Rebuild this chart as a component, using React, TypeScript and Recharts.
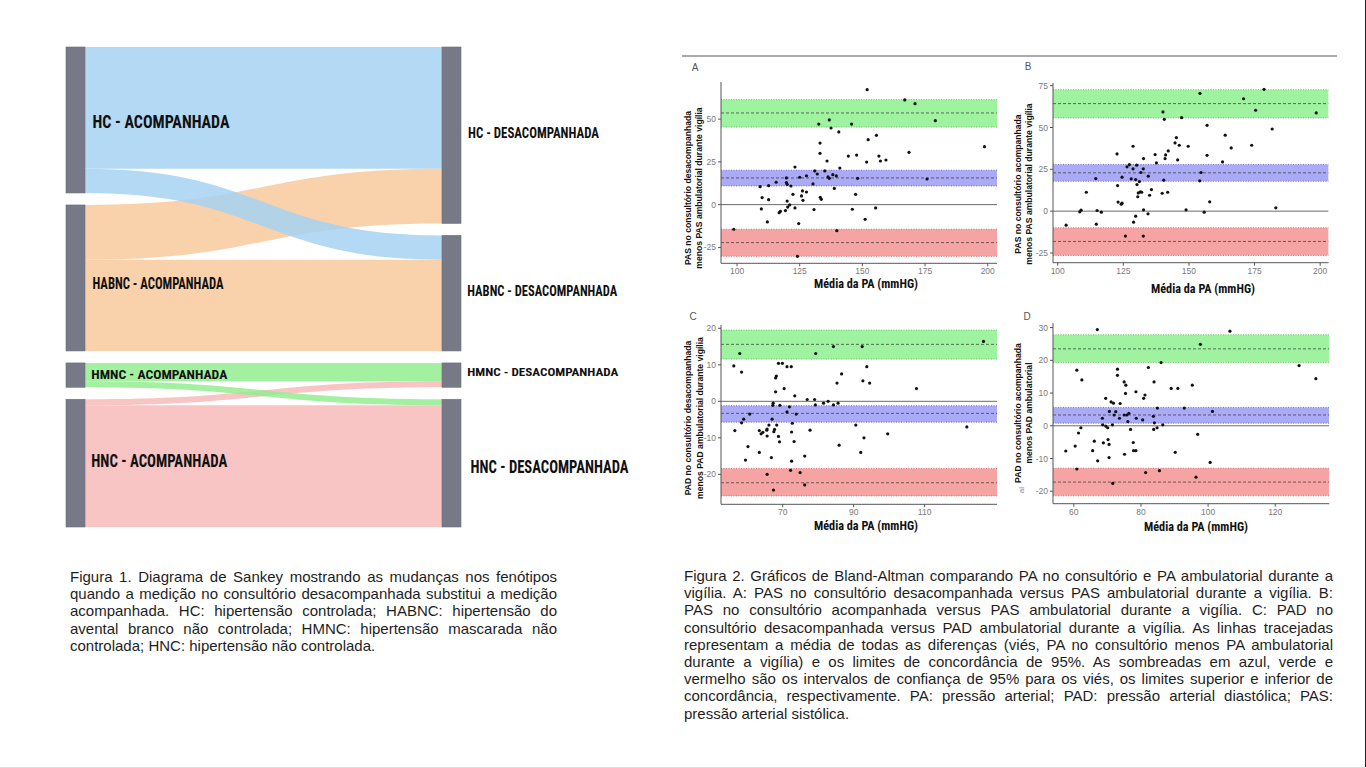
import React from 'react';
import { Sankey, ScatterChart, Scatter, XAxis, YAxis, ReferenceArea, ReferenceLine } from 'recharts';

// ---------------- Sankey data ----------------
const SANKEY_NODES = [
  'HC - ACOMPANHADA',
  'HABNC - ACOMPANHADA',
  'HMNC - ACOMPANHADA',
  'HNC - ACOMPANHADA',
  'HC - DESACOMPANHADA',
  'HABNC - DESACOMPANHADA',
  'HMNC - DESACOMPANHADA',
  'HNC - DESACOMPANHADA',
];
// [source, target, patients]
const SANKEY_LINKS: [number, number, number][] = [
  [0, 4, 20],
  [1, 4, 9],
  [1, 5, 15],
  [0, 5, 4],
  [3, 6, 1],
  [2, 6, 3],
  [2, 7, 1],
  [3, 7, 20],
];

// ---------------- Bland-Altman data ----------------
const A_POINTS: [number, number][] = [
  [98.7, -14.4], [109.2, 10.5], [110.0, 4.1], [109.7, -2.5], [112.6, 11.1], [112.6, 2.9], [112.1, -10.1],
  [115.6, 13.1], [116.8, -4.7], [117.3, -3.9], [119.3, -3.5], [119.7, 15.6], [119.7, 12.9], [120.0, 11.9],
  [120.0, 2.1], [120.2, -1.4], [121.0, -0.2], [121.5, 10.9], [122.3, 6.0], [123.1, 22.0], [123.1, -1.9],
  [124.6, -11.1], [125.0, 16.0], [125.7, 5.1], [126.1, 8.0], [126.3, 2.5], [127.7, 16.9], [127.7, 7.4],
  [124.1, -30.2], [130.3, 12.1], [130.7, -2.9], [131.0, 19.7], [132.0, 17.9], [132.6, 47.1], [133.1, 36.0],
  [133.1, 30.0], [133.2, 4.3], [133.6, 3.1], [135.0, 19.7], [135.9, 25.5], [136.3, 16.2], [136.8, 15.4],
  [136.8, 49.5], [137.5, 44.8], [138.2, 17.5], [138.8, 9.5], [139.6, 16.8], [139.8, -15.2], [140.6, 42.5],
  [141.0, 21.4], [144.4, 28.4], [145.7, 47.1], [146.0, -2.7], [147.3, 6.0], [147.7, 29.0], [148.1, 15.4],
  [151.1, -8.6], [151.9, 67.2], [151.7, 24.9], [152.3, 38.0], [155.3, -1.9], [155.6, 40.5], [156.6, 28.4],
  [157.2, 25.5], [159.4, 26.1], [166.9, 61.2], [168.6, 30.6], [171.0, 59.0], [175.8, 15.0], [179.1, 49.1],
  [198.7, 33.9],
];
const B_POINTS: [number, number][] = [
  [103.2, -8.4], [108.4, -0.4], [108.9, 0.6], [110.9, 11.3], [114.5, 19.5], [114.7, -7.8], [115.0, 0.4],
  [116.6, -0.6], [122.6, 34.2], [122.8, 15.3], [123.0, 5.4], [124.2, 4.2], [124.5, 4.8], [124.5, 20.3],
  [125.8, -14.9], [126.4, 26.5], [127.3, 27.8], [128.0, 19.3], [128.7, 38.8], [128.7, 25.3], [128.9, -6.6],
  [129.7, 18.9], [129.7, -3.0], [130.1, 27.5], [130.2, 15.9], [130.5, 8.6], [130.7, 10.9], [131.1, 17.7],
  [131.5, 11.5], [132.0, 11.3], [131.7, 23.1], [132.6, 25.3], [132.7, 31.4], [132.7, 0.8], [132.6, -14.9],
  [134.4, -1.6], [134.5, 20.9], [135.0, 9.5], [135.7, 12.9], [137.1, 33.8], [137.6, 28.8], [139.8, 10.7],
  [140.1, 59.3], [140.4, 18.5], [140.6, 54.9], [140.9, 31.4], [141.1, 33.6], [141.9, 11.3], [142.1, 36.0],
  [144.7, 40.8], [145.2, 44.0], [145.7, 30.6], [146.3, 39.4], [147.2, 55.9], [148.9, 0.8], [149.7, 38.8],
  [154.2, 70.4], [154.1, 18.1], [154.6, 23.1], [155.8, -0.6], [156.9, 51.3], [156.9, 33.4], [157.9, 5.6],
  [162.8, 29.4], [163.8, 45.4], [166.1, 37.8], [170.8, 67.2], [173.9, 39.4], [175.4, 60.3], [178.6, 72.8],
  [181.7, 49.1], [183.1, 2.0], [198.5, 58.7],
];
const C_POINTS: [number, number][] = [
  [56.2, 9.7], [56.5, -8.0], [57.9, 13.1], [58.4, 8.0], [58.4, -5.9], [59.0, -4.9], [59.5, -16.1],
  [60.2, -12.4], [60.7, -3.5], [63.4, -14.0], [63.4, -8.0], [63.9, -8.9], [64.4, -8.5], [65.5, -7.9],
  [65.6, -7.6], [65.6, -9.5], [65.6, -20.0], [66.1, -6.5], [66.8, -15.4], [67.0, -4.9], [67.2, -1.1],
  [67.3, -0.5], [67.5, -8.3], [67.7, -7.7], [67.4, -24.3], [68.0, 2.6], [68.0, 6.4], [68.2, 6.9],
  [68.3, -6.5], [68.8, 10.4], [68.8, -9.6], [69.1, -11.1], [69.2, -1.1], [69.9, 10.4], [70.4, 3.5],
  [71.2, 9.5], [71.2, -2.9], [71.9, -1.5], [72.2, -18.9], [72.4, 9.5], [72.5, -8.4], [72.5, -16.4],
  [72.7, -6.0], [73.2, -11.0], [73.4, 1.5], [73.8, -3.5], [74.9, -19.5], [76.2, -15.0], [76.2, -22.9],
  [76.9, 0.5], [77.7, -7.9], [79.0, 0.5], [79.2, -1.0], [79.3, 13.1], [81.5, -0.5], [82.8, 0.0],
  [84.3, 15.0], [84.3, -1.0], [85.3, 5.0], [85.6, -0.5], [85.9, -12.0], [86.6, 7.5], [90.6, -6.5],
  [92.0, -14.0], [92.4, 15.0], [92.6, 5.6], [92.9, -10.0], [93.7, 9.5], [94.5, 5.0], [99.6, -8.9],
  [107.7, 3.5], [121.9, -7.0], [126.6, 16.4],
];
const D_POINTS: [number, number][] = [
  [57.6, -7.7], [60.4, -6.2], [60.9, 17.0], [60.9, -13.2], [61.4, -2.2], [62.1, -0.6], [62.4, 14.0],
  [65.6, -7.6], [66.1, -4.7], [67.0, 29.4], [67.1, -10.7], [68.5, 2.3], [68.6, 0.3], [68.8, -5.2],
  [69.5, 8.4], [69.5, -0.1], [70.1, -0.6], [70.2, -4.2], [70.5, -5.7], [70.5, -9.7], [70.6, 4.4],
  [71.1, 7.3], [71.5, 0.3], [71.6, -17.6], [71.8, 6.9], [72.0, 3.3], [72.5, 4.3], [73.0, 17.3],
  [73.0, 15.4], [73.6, 2.3], [73.8, 6.8], [75.0, 13.4], [75.0, 3.3], [75.1, -8.7], [75.5, 12.4],
  [75.4, 9.9], [75.8, 3.3], [76.1, 1.3], [76.4, 3.8], [76.9, -1.1], [77.7, -5.1], [77.8, -7.6],
  [78.5, -7.6], [78.5, 10.4], [78.6, 2.3], [80.5, 1.8], [80.8, 8.4], [81.2, 9.4], [81.4, -14.3],
  [82.2, 17.8], [83.7, 2.9], [83.8, -1.1], [83.9, 13.4], [84.0, 0.9], [84.8, -0.6], [84.9, 5.4],
  [85.5, -13.7], [86.0, 19.3], [86.5, 0.3], [89.0, 11.4], [90.2, -8.1], [91.0, 11.4], [92.9, 5.4],
  [95.3, 12.4], [96.4, -15.7], [96.9, -2.6], [97.7, 24.9], [100.6, -11.2], [101.3, 4.4], [106.5, 28.9],
  [127.1, 18.4], [132.1, 14.4],
];

// limits: [low CI, estimate, high CI]
const A_UPPER = [45.4, 53.6, 61.4];
const A_BIAS = [10.9, 15.6, 20.1];
const A_LOWER = [-30.2, -22.2, -14.4];
const B_UPPER = [55.7, 64.3, 72.6];
const B_BIAS = [17.9, 22.9, 27.9];
const B_LOWER = [-26.5, -18.1, -9.9];
const C_UPPER = [11.6, 15.6, 19.5];
const C_BIAS = [-5.7, -3.3, -1.2];
const C_LOWER = [-25.9, -22.3, -18.4];
const D_UPPER = [19.3, 23.5, 27.8];
const D_BIAS = [0.8, 3.3, 5.6];
const D_LOWER = [-21.4, -17.2, -13.0];

const A_X_TICKS = [100, 125, 150, 175, 200];
const A_Y_TICKS = [-25, 0, 25, 50];
const B_X_TICKS = [100, 125, 150, 175, 200];
const B_Y_TICKS = [-25, 0, 25, 50, 75];
const C_X_TICKS = [70, 90, 110];
const C_Y_TICKS = [-20, -10, 0, 10, 20];
const D_X_TICKS = [60, 80, 100, 120];
const D_Y_TICKS = [-20, -10, 0, 10, 20, 30];

const X_TITLE = 'Média da PA (mmHG)';
const A_Y_TITLE = ['PAS no consultório desacompanhada', 'menos PAS ambulatorial durante vigília'];
const B_Y_TITLE = ['PAS no consultório acompanhada', 'menos PAS ambulatorial durante vigília'];
const C_Y_TITLE = ['PAD no consultório desacompanhada', 'menos PAD ambulatorial durante vigília'];
const D_Y_TITLE = ['PAD no consultório acompanhada', 'menos PAD ambulatorial'];

const FIG1_LINES = [
  'Figura 1. Diagrama de Sankey mostrando as mudanças nos fenótipos',
  'quando a medição no consultório desacompanhada substitui a medição',
  'acompanhada. HC: hipertensão controlada; HABNC: hipertensão do',
  'avental branco não controlada; HMNC: hipertensão mascarada não',
  'controlada; HNC: hipertensão não controlada.',
];
const FIG2_LINES = [
  'Figura 2. Gráficos de Bland-Altman comparando  PA no consultório e PA ambulatorial durante a',
  'vigília. A: PAS no consultório desacompanhada versus PAS ambulatorial durante a vigília. B:',
  'PAS no consultório acompanhada versus PAS ambulatorial durante a vigília. C: PAD no',
  'consultório desacompanhada versus PAD ambulatorial durante a vigília. As linhas tracejadas',
  'representam a média de todas as diferenças (viés, PA no consultório menos PA ambulatorial',
  'durante a vigília) e os limites de concordância de 95%. As sombreadas em azul, verde e',
  'vermelho são os intervalos de confiança de 95% para os viés, os limites superior e inferior de',
  'concordância, respectivamente. PA: pressão arterial; PAD: pressão arterial diastólica; PAS:',
  'pressão arterial sistólica.',
];

// ---------------- styles / layout ----------------
const NARROW = "'Liberation Sans Narrow', 'Roboto Condensed', 'DejaVu Sans Condensed', 'Liberation Sans', Arial, sans-serif";
const ARIAL = "'Liberation Sans', Arial, Helvetica, sans-serif";

const LINK_COLOR: Record<string, string> = {
  'HC - ACOMPANHADA': 'rgb(166,210,243)',
  'HABNC - ACOMPANHADA': 'rgb(248,201,155)',
  'HMNC - ACOMPANHADA': 'rgb(147,237,143)',
  'HNC - ACOMPANHADA': 'rgb(247,186,186)',
};
const NODE_LABEL: Record<string, { dx: number; dy: number; size: number; len: number }> = {
  'HC - ACOMPANHADA': { dx: 7.5, dy: 1.7, size: 18, len: 137 },
  'HABNC - ACOMPANHADA': { dx: 7.5, dy: 6, size: 16, len: 131 },
  'HMNC - ACOMPANHADA': { dx: 6.3, dy: -1, size: 12.5, len: 136 },
  'HNC - ACOMPANHADA': { dx: 6.3, dy: -3, size: 19, len: 136 },
  'HC - DESACOMPANHADA': { dx: 7, dy: -2.5, size: 15, len: 131 },
  'HABNC - DESACOMPANHADA': { dx: 6.3, dy: -2, size: 14, len: 150 },
  'HMNC - DESACOMPANHADA': { dx: 6.3, dy: -3, size: 11.5, len: 151 },
  'HNC - DESACOMPANHADA': { dx: 9.6, dy: 3, size: 18, len: 158 },
};

const SANKEY_W = 680;
const SANKEY_H = 540;

const sankeyData = {
  nodes: SANKEY_NODES.map((name) => ({ name })),
  links: SANKEY_LINKS.map(([source, target, value]) => ({ source, target, value })),
};

const nodeName = (n: any) => (typeof n === 'number' ? SANKEY_NODES[n] : n?.name);

const SankeyNode = (props: any) => {
  const { x, y, width, height, payload } = props;
  const name = payload?.name;
  const lab = NODE_LABEL[name] || { dx: 6, dy: 0, size: 14, len: 130 };
  return (
    <g>
      <rect x={x} y={y} width={width} height={height} fill="#777987" stroke="#6c6e7c" strokeWidth={0.6} />
      <text
        x={x + width + lab.dx}
        y={y + height / 2 + lab.dy}
        fontFamily={NARROW}
        fontWeight={700}
        fontSize={lab.size}
        fill="#111"
        dominantBaseline="central"
        textLength={lab.len}
        lengthAdjust="spacingAndGlyphs"
      >
        {name}
      </text>
    </g>
  );
};

const SankeyLink = (props: any) => {
  const { sourceX, targetX, sourceY, targetY, sourceControlX, targetControlX, linkWidth, payload } = props;
  const h = linkWidth / 2;
  const d = `M${sourceX},${sourceY - h} C${sourceControlX},${sourceY - h} ${targetControlX},${targetY - h} ${targetX},${targetY - h} L${targetX},${targetY + h} C${targetControlX},${targetY + h} ${sourceControlX},${sourceY + h} ${sourceX},${sourceY + h} Z`;
  const color = LINK_COLOR[nodeName(payload?.source)] || '#ccc';
  return <path d={d} fill={color} fillOpacity={0.85} stroke="none" />;
};

type PanelCfg = {
  points: [number, number][];
  upper: number[];
  bias: number[];
  lower: number[];
  xTicks: number[];
  yTicks: number[];
  xDomain: [number, number];
  yDomain: [number, number];
  plot: { x: number; y: number; w: number; h: number };
};

const PANELS: PanelCfg[] = [
  { points: A_POINTS, upper: A_UPPER, bias: A_BIAS, lower: A_LOWER, xTicks: A_X_TICKS, yTicks: A_Y_TICKS,
    xDomain: [93.6, 203.7], yDomain: [-34.3, 71.7], plot: { x: 720.7, y: 81.7, w: 276, h: 181.3 } },
  { points: B_POINTS, upper: B_UPPER, bias: B_BIAS, lower: B_LOWER, xTicks: B_X_TICKS, yTicks: B_Y_TICKS,
    xDomain: [98.2, 203.2], yDomain: [-30.8, 76.6], plot: { x: 1052.7, y: 83.3, w: 275.6, h: 179.7 } },
  { points: C_POINTS, upper: C_UPPER, bias: C_BIAS, lower: C_LOWER, xTicks: C_X_TICKS, yTicks: C_Y_TICKS,
    xDomain: [52.6, 130.4], yDomain: [-28.2, 20.9], plot: { x: 720.7, y: 325, w: 276, h: 179.3 } },
  { points: D_POINTS, upper: D_UPPER, bias: D_BIAS, lower: D_LOWER, xTicks: D_X_TICKS, yTicks: D_Y_TICKS,
    xDomain: [53.8, 136.1], yDomain: [-23.8, 31.4], plot: { x: 1052.7, y: 323.3, w: 276.3, h: 180.7 } },
];

const BANDS = [
  { key: 'upper', fill: '#9ff29f', edge: '#5fc25f' },
  { key: 'bias', fill: '#aaaaf7', edge: '#6a6ad0' },
  { key: 'lower', fill: '#f5a3a3', edge: '#cf6a6a' },
] as const;

const TICK_STYLE = { fontSize: 8.5, fill: '#7a7a7a', fontFamily: ARIAL };

const Dot = (p: any) => <circle cx={p.cx} cy={p.cy} r={1.6} fill="#111" />;

function Panel({ cfg }: { cfg: PanelCfg }) {
  const MT = 10, MR = 10, YW = 40, XH = 22;
  const W = cfg.plot.w + YW + MR;
  const H = cfg.plot.h + MT + XH;
  const data = cfg.points.map(([x, y]) => ({ x, y }));
  return (
    <div style={{ position: 'absolute', left: cfg.plot.x - YW, top: cfg.plot.y - MT }}>
      <ScatterChart width={W} height={H} margin={{ top: MT, right: MR, bottom: 0, left: 0 }}>
        <XAxis
          type="number"
          dataKey="x"
          domain={cfg.xDomain}
          ticks={cfg.xTicks}
          allowDataOverflow
          interval={0}
          height={XH}
          tickSize={3}
          tick={TICK_STYLE}
          axisLine={{ stroke: '#555', strokeWidth: 1 }}
          tickLine={{ stroke: '#555' }}
        />
        <YAxis
          type="number"
          dataKey="y"
          domain={cfg.yDomain}
          ticks={cfg.yTicks}
          allowDataOverflow
          interval={0}
          width={YW}
          tickSize={3}
          tick={TICK_STYLE}
          axisLine={{ stroke: '#555', strokeWidth: 1 }}
          tickLine={{ stroke: '#555' }}
        />
        {BANDS.map((b) => {
          const v = cfg[b.key];
          return (
            <ReferenceArea key={b.key} y1={v[0]} y2={v[2]} fill={b.fill} fillOpacity={1} stroke="none" ifOverflow="hidden" />
          );
        })}
        {BANDS.map((b) => {
          const v = cfg[b.key];
          return [
            <ReferenceLine key={b.key + 'lo'} y={v[0]} stroke={b.edge} strokeWidth={0.9} strokeDasharray="1 1.5" ifOverflow="hidden" />,
            <ReferenceLine key={b.key + 'hi'} y={v[2]} stroke={b.edge} strokeWidth={0.9} strokeDasharray="1 1.5" ifOverflow="hidden" />,
            <ReferenceLine key={b.key + 'mid'} y={v[1]} stroke="#333" strokeWidth={0.7} strokeDasharray="3 2" ifOverflow="hidden" />,
          ];
        })}
        <ReferenceLine y={0} stroke="#6a6a6a" strokeWidth={1} ifOverflow="hidden" />
        <Scatter data={data} shape={Dot} isAnimationActive={false} />
      </ScatterChart>
    </div>
  );
}

const TITLES = [
  { letter: 'A', lx: 695, ly: 67, xt: { x: 866, y: 284 }, yt: A_Y_TITLE, yx: [688.3, 699], ycy: 188 },
  { letter: 'B', lx: 1028, ly: 66, xt: { x: 1203, y: 289 }, yt: B_Y_TITLE, yx: [1018.3, 1029], ycy: 184 },
  { letter: 'C', lx: 693, ly: 316, xt: { x: 866, y: 526 }, yt: C_Y_TITLE, yx: [688.3, 700], ycy: 418 },
  { letter: 'D', lx: 1027, ly: 316, xt: { x: 1196, y: 527 }, yt: D_Y_TITLE, yx: [1018.3, 1029], ycy: 413 },
];

function Caption({ lines, left, top, width }: { lines: string[]; left: number; top: number; width: number }) {
  return (
    <div style={{ position: 'absolute', left, top, width, fontFamily: ARIAL, fontSize: 15, lineHeight: '17.2px', color: '#1e1e1e' }}>
      {lines.map((l, i) => (
        <div
          key={i}
          style={{
            whiteSpace: 'nowrap',
            textAlign: i === lines.length - 1 ? 'left' : 'justify',
            textAlignLast: i === lines.length - 1 ? 'left' : 'justify',
          }}
        >
          {l}
        </div>
      ))}
    </div>
  );
}

export default function App() {
  return (
    <div style={{ position: 'absolute', left: 0, top: 0, width: 1366, height: 768, background: '#fff', overflow: 'hidden' }}>
      <div style={{ position: 'absolute', left: 0, top: 0 }}>
        <Sankey
          width={SANKEY_W}
          height={SANKEY_H}
          data={sankeyData}
          nodeWidth={19}
          nodePadding={12}
          iterations={0}
          margin={{ top: 47, bottom: SANKEY_H - 527, left: 66, right: SANKEY_W - 461 }}
          node={SankeyNode}
          link={SankeyLink}
        />
      </div>

      {PANELS.map((p, i) => (
        <Panel key={i} cfg={p} />
      ))}

      <svg width={1366} height={768} style={{ position: 'absolute', left: 0, top: 0, pointerEvents: 'none' }}>
        {TITLES.map((t) => (
          <g key={t.letter}>
            <text x={t.lx} y={t.ly} fontFamily={ARIAL} fontSize={10} fill="#555" textAnchor="middle" dominantBaseline="central">
              {t.letter}
            </text>
            <text
              x={t.xt.x}
              y={t.xt.y}
              fontFamily={NARROW}
              fontWeight={700}
              fontSize={12}
              fill="#111"
              textAnchor="middle"
              dominantBaseline="central"
              textLength={104}
              lengthAdjust="spacingAndGlyphs"
            >
              {X_TITLE}
            </text>
            {t.yt.map((line, j) => (
              <text
                key={j}
                x={t.yx[j]}
                y={t.ycy}
                transform={`rotate(-90 ${t.yx[j]} ${t.ycy})`}
                fontFamily={ARIAL}
                fontWeight={700}
                fontSize={8.6}
                fill="#111"
                textAnchor="middle"
                dominantBaseline="central"
              >
                {line}
              </text>
            ))}
          </g>
        ))}
        <text x={1021} y={490} transform="rotate(-90 1021 490)" fontFamily={ARIAL} fontSize={8} fill="#888" textAnchor="middle" dominantBaseline="central">
          aí
        </text>
      </svg>

      <div style={{ position: 'absolute', left: 682, top: 55, width: 655, height: 1.5, background: '#aaa' }} />
      <div style={{ position: 'absolute', left: 1365, top: 0, width: 1, height: 768, background: '#222' }} />
      <div style={{ position: 'absolute', left: 0, top: 766.5, width: 1366, height: 1.5, background: '#ddd' }} />

      <Caption lines={FIG1_LINES} left={70} top={568} width={487} />
      <Caption lines={FIG2_LINES} left={684} top={567} width={649} />
    </div>
  );
}
